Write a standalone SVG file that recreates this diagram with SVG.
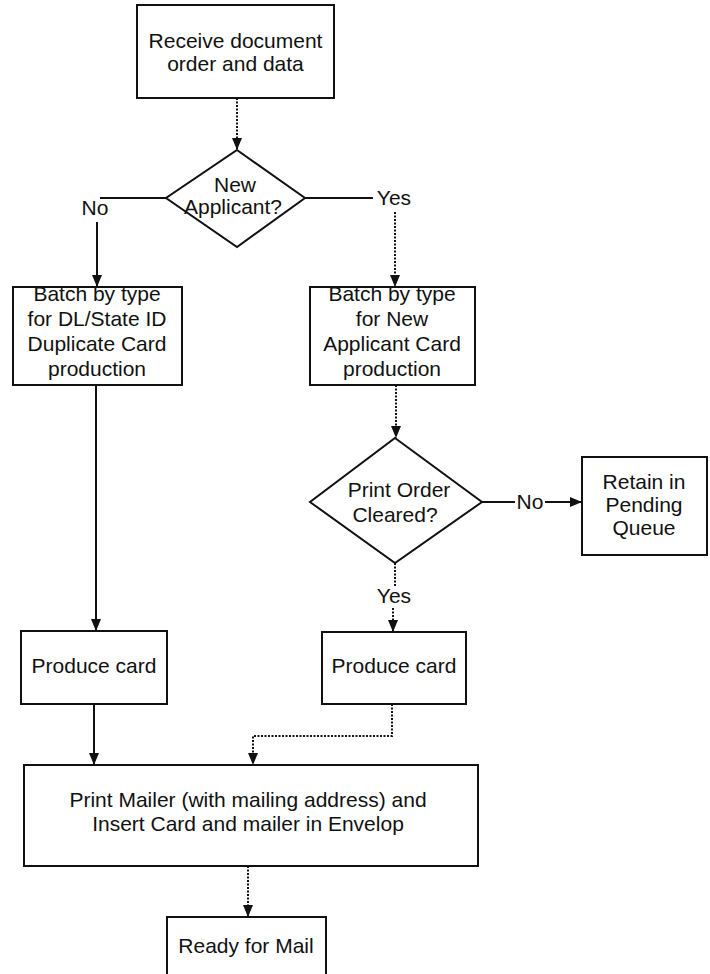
<svg xmlns="http://www.w3.org/2000/svg" width="710" height="974" viewBox="0 0 710 974">
<style>
  .bg { fill: #ffffff; }
  .box { fill: #ffffff; stroke: #111; stroke-width: 2; }
  .dia { fill: #ffffff; stroke: #111; stroke-width: 2; }
  .t { font-family: "Liberation Sans", Arial, sans-serif; font-size: 21px; fill: #111; text-anchor: middle; }
  .c { fill: none; stroke: #111; stroke-width: 2; }
  .d { fill: none; stroke: #111; stroke-width: 2; stroke-dasharray: 2 1.5; }
</style>
<defs>
  <marker id="ah" viewBox="0 0 12 10" refX="12" refY="5" markerWidth="12" markerHeight="10" orient="auto" markerUnits="userSpaceOnUse">
    <path d="M0,0 L12,5 L0,10 z" fill="#111"/>
  </marker>
</defs>
<rect class="bg" x="0" y="0" width="710" height="974"/>

<g id="connectors">
  <path class="d" d="M237,98 V150" marker-end="url(#ah)"/>
  <path class="c" d="M166,198 H100"/>
  <path class="c" d="M97,222 V287" marker-end="url(#ah)"/>
  <path class="c" d="M305,198 H373"/>
  <path class="d" d="M395,212 V287" marker-end="url(#ah)"/>
  <path class="c" d="M96,385 V631" marker-end="url(#ah)"/>
  <path class="d" d="M396,385 V438" marker-end="url(#ah)"/>
  <path class="c" d="M482,502 H515"/>
  <path class="c" d="M545,502 H582" marker-end="url(#ah)"/>
  <path class="d" d="M395,563 V586"/>
  <path class="d" d="M393,608 V632" marker-end="url(#ah)"/>
  <path class="c" d="M94,704 V765" marker-end="url(#ah)"/>
  <path class="d" d="M392,704 V736 H253 V765" marker-end="url(#ah)"/>
  <path class="d" d="M248,866 V917" marker-end="url(#ah)"/>
  <text class="t" x="95" y="215">No</text>
  <text class="t" x="394" y="205">Yes</text>
  <text class="t" x="530" y="509">No</text>
  <text class="t" x="394" y="603">Yes</text>
</g>

<g id="receive">
  <rect class="box" x="137" y="5" width="197" height="93"/>
  <text class="t" x="235.5" y="48">Receive document</text>
  <text class="t" x="235.5" y="71">order and data</text>
</g>

<g id="new-applicant">
  <polygon class="dia" points="237,150 305,198 237,247 166,198"/>
  <text class="t" x="235" y="192">New</text>
  <text class="t" x="233" y="214">Applicant?</text>
</g>

<g id="batch-duplicate">
  <rect class="box" x="13" y="287" width="169" height="98"/>
  <text class="t" x="97" y="301">Batch by type</text>
  <text class="t" x="97" y="326">for DL/State ID</text>
  <text class="t" x="97" y="351">Duplicate Card</text>
  <text class="t" x="97" y="376">production</text>
</g>

<g id="batch-new">
  <rect class="box" x="310" y="287" width="165" height="98"/>
  <text class="t" x="392" y="301">Batch by type</text>
  <text class="t" x="392" y="326">for New</text>
  <text class="t" x="392" y="351">Applicant Card</text>
  <text class="t" x="392" y="376">production</text>
</g>

<g id="print-order-cleared">
  <polygon class="dia" points="395,438 482,502 395,563 310,502"/>
  <text class="t" x="399" y="497">Print Order</text>
  <text class="t" x="395" y="522">Cleared?</text>
</g>

<g id="retain">
  <rect class="box" x="582" y="457" width="125" height="98"/>
  <text class="t" x="644" y="489">Retain in</text>
  <text class="t" x="644" y="512">Pending</text>
  <text class="t" x="644" y="535">Queue</text>
</g>

<g id="produce-left">
  <rect class="box" x="21" y="631" width="146" height="73"/>
  <text class="t" x="94" y="673">Produce card</text>
</g>

<g id="produce-right">
  <rect class="box" x="322" y="632" width="144" height="72"/>
  <text class="t" x="394" y="673">Produce card</text>
</g>

<g id="print-mailer">
  <rect class="box" x="24" y="765" width="454" height="101"/>
  <text class="t" x="248" y="807">Print Mailer (with mailing address) and</text>
  <text class="t" x="248" y="831">Insert Card and mailer in Envelop</text>
</g>

<g id="ready">
  <rect class="box" x="167" y="917" width="159" height="70"/>
  <text class="t" x="246" y="953">Ready for Mail</text>
</g>
</svg>
